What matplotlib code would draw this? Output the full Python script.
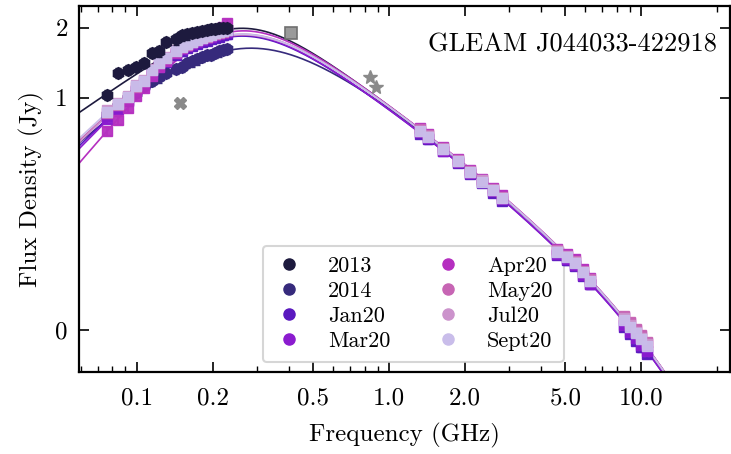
import numpy as np
import matplotlib
matplotlib.use("Agg")
import matplotlib.pyplot as plt
from matplotlib.lines import Line2D
from matplotlib.ticker import FixedLocator, NullLocator, LogLocator

plt.rcParams.update({
    "font.family": "serif",
    "font.serif": ["cmr10"],
    "mathtext.fontset": "cm",
    "axes.formatter.use_mathtext": True,
})

# ---------------- data ----------------
mwa_freq = [0.076, 0.084, 0.092, 0.099, 0.107, 0.115, 0.122, 0.130, 0.143, 0.151,
            0.158, 0.166, 0.174, 0.181, 0.189, 0.197, 0.204, 0.212, 0.220, 0.227]
atca_l_freq = [1.33, 1.42, 1.64, 1.88, 2.10, 2.34, 2.59, 2.81]
atca_c_freq = [4.65, 5.05, 5.45, 5.85, 6.25]
atca_x_freq = [8.5, 9.0, 9.5, 10.0, 10.5]

epochs = ["2013", "2014", "Jan20", "Mar20", "Apr20", "May20", "Jul20", "Sept20"]
colors = ["#1d1a3e", "#362a7c", "#5a19bf", "#8b1bcf", "#b52fc0", "#c765b4", "#cc93cc", "#c9bdea"]

mwa_2013 = [1.03, 1.28, 1.31, 1.35, 1.41, 1.56, 1.58, 1.73, 1.78, 1.85,
            1.87, 1.89, 1.92, 1.94, 1.96, 1.97, 1.98, 1.99, 1.99, 2.00]
mwa_2014 = [0.84, 0.92, 1.00, 1.05, 1.12, 1.18, 1.22, 1.28, 1.33, 1.36,
            1.41, 1.43, 1.46, 1.49, 1.52, 1.53, 1.56, 1.58, 1.60, 1.62]
mwa_jan20 = [0.83, 0.90, 0.97, 1.07, 1.13, 1.26, 1.35, 1.42, 1.53, 1.58,
             1.63, 1.67, 1.70, 1.73, 1.76, 1.79, 1.81, 1.83, 1.85, 1.87]
mwa_mar20 = [0.81, 0.89, 0.98, 1.08, 1.15, 1.28, 1.37, 1.45, 1.56, 1.61,
             1.66, 1.70, 1.74, 1.77, 1.80, 1.83, 1.86, 1.88, 1.90, 1.92]
mwa_apr20 = [0.72, 0.80, 0.90, 1.02, 1.10, 1.24, 1.35, 1.43, 1.56, 1.63,
             1.69, 1.74, 1.79, 1.83, 1.87, 1.91, 1.95, 1.98, 2.02, 2.10]
mwa_may20 = [0.86, 0.93, 1.01, 1.11, 1.18, 1.31, 1.41, 1.48, 1.59, 1.65,
             1.69, 1.73, 1.77, 1.80, 1.83, 1.86, 1.88, 1.90, 1.92, 1.95]
mwa_jul20 = [0.88, 0.95, 1.02, 1.13, 1.19, 1.33, 1.42, 1.49, 1.60, 1.66,
             1.70, 1.74, 1.78, 1.81, 1.84, 1.87, 1.89, 1.91, 1.93, 1.96]
mwa_sept20 = [0.87, 0.94, 1.01, 1.12, 1.18, 1.32, 1.41, 1.48, 1.59, 1.65,
              1.70, 1.73, 1.77, 1.81, 1.84, 1.86, 1.89, 1.91, 1.93, 1.95]

atca_l = {
    "Jan20": [0.70, 0.66, 0.59, 0.525, 0.47, 0.43, 0.39, 0.36],
    "Mar20": [0.71, 0.67, 0.59, 0.53, 0.475, 0.435, 0.395, 0.365],
    "Apr20": [0.74, 0.70, 0.61, 0.545, 0.49, 0.445, 0.41, 0.38],
    "May20": [0.73, 0.69, 0.605, 0.54, 0.485, 0.44, 0.405, 0.375],
    "Jul20": [0.72, 0.68, 0.60, 0.535, 0.48, 0.44, 0.40, 0.37],
    "Sept20": [0.72, 0.675, 0.60, 0.535, 0.48, 0.435, 0.40, 0.37],
}
atca_c = {
    "Jan20": [0.210, 0.199, 0.188, 0.171, 0.157],
    "Mar20": [0.212, 0.201, 0.190, 0.172, 0.158],
    "Apr20": [0.224, 0.212, 0.201, 0.183, 0.168],
    "May20": [0.220, 0.209, 0.198, 0.180, 0.165],
    "Jul20": [0.218, 0.207, 0.196, 0.178, 0.163],
    "Sept20": [0.216, 0.205, 0.195, 0.177, 0.162],
}
atca_x = {
    "Jan20": [0.103, 0.096, 0.090, 0.084, 0.079],
    "Mar20": [0.105, 0.098, 0.092, 0.086, 0.081],
    "Apr20": [0.114, 0.107, 0.100, 0.094, 0.088],
    "May20": [0.115, 0.108, 0.101, 0.095, 0.089],
    "Jul20": [0.112, 0.105, 0.098, 0.092, 0.087],
    "Sept20": [0.110, 0.103, 0.097, 0.091, 0.085],
}

# archival measurements (grey)
arch_square = ([0.408], [1.90])
arch_cross = ([0.149], [0.95])
arch_star = ([0.84, 0.888], [1.22, 1.115])

# fitted spectral model parameters per epoch:
# optically-thick / thin normalisation at 1 GHz, indices, smoothness, cutoff frequency
s_thick = [7.23, 9.6, 14.1, 15.8, 20.9, 12.9, 13.8, 13.2]
a_thick = [0.75, 0.95, 1.10, 1.15, 1.30, 1.05, 1.08, 1.05]
s_thin = [0.984, 0.984, 0.955, 0.955, 0.99, 0.99, 0.984, 0.984]
a_thin = [-0.75, -0.75, -0.75, -0.75, -0.75, -0.75, -0.75, -0.75]
smooth = [0.40, 0.70, 0.62, 0.63, 0.65, 0.62, 0.62, 0.62]
nu_cut = [15.0] * 8


def spectrum(nu, sk, ak, sn, an, w, nc):
    x = np.log10(nu)
    low = np.log10(sk) + ak * x
    high = np.log10(sn) + an * x
    y = -w * np.log10(10 ** (-low / w) + 10 ** (-high / w)) - nu / (nc * np.log(10))
    return 10 ** y


mwa_vals = [mwa_2013, mwa_2014, mwa_jan20, mwa_mar20, mwa_apr20, mwa_may20, mwa_jul20, mwa_sept20]

# ---------------- figure ----------------
fig = plt.figure(figsize=(7.31, 4.54), dpi=100)
ax = fig.add_axes([0.108, 0.181, 0.891, 0.806])
ax.set_xscale("log")
ax.set_yscale("log")

nu_grid = np.logspace(np.log10(0.05), np.log10(30), 500)
for i, ep in enumerate(epochs):
    ax.plot(nu_grid, spectrum(nu_grid, s_thick[i], a_thick[i], s_thin[i], a_thin[i], smooth[i], nu_cut[i]),
            color=colors[i], lw=1.2, zorder=2)

# archival points
ax.plot(*arch_square, ls="none", marker="s", ms=9, mfc="#9a9a9a", mec="#6f6f6f", mew=1.2, zorder=3)
ax.plot(*arch_cross, ls="none", marker="X", ms=9, color="#8a8a8a", zorder=3)
ax.errorbar(*arch_star, yerr=[0.02, 0.02], ls="none", marker="*", ms=10, color="#8a8a8a",
            capsize=2, zorder=3)

# epoch measurements
order = [1, 2, 3, 4, 5, 6, 7, 0]
for i in order:
    ep = epochs[i]
    c = colors[i]
    if i < 2:
        y = np.array(mwa_vals[i])
        ax.errorbar(mwa_freq, y, yerr=0.05 * y, ls="none", marker="h", ms=8.5, color=c,
                    mec=c, capsize=2, elinewidth=1.2, zorder=5 if i == 0 else 4)
    else:
        f = mwa_freq + atca_l_freq + atca_c_freq + atca_x_freq
        y = np.array(mwa_vals[i] + atca_l[ep] + atca_c[ep] + atca_x[ep])
        ax.errorbar(f, y, yerr=0.04 * y, ls="none", marker="s", ms=6.5, color=c,
                    mec=c, capsize=3, elinewidth=1.2, alpha=0.95, zorder=4)

ax.set_xlim(0.059, 22.5)
ax.set_ylim(0.066, 2.48)

ax.xaxis.set_major_locator(FixedLocator([0.1, 0.2, 0.5, 1.0, 2.0, 5.0, 10.0]))
ax.set_xticklabels(["0.1", "0.2", "0.5", "1.0", "2.0", "5.0", "10.0"])
ax.xaxis.set_minor_locator(LogLocator(base=10, subs=np.arange(2, 10) * 0.1 * 10, numticks=20))
ax.yaxis.set_major_locator(FixedLocator([0.1, 1.0, 2.0]))
ax.set_yticklabels(["0", "1", "2"])
ax.yaxis.set_minor_locator(NullLocator())

ax.tick_params(which="both", direction="in", top=True, right=True, labelsize=18, pad=8)
ax.tick_params(axis="x", which="major", pad=11)
ax.tick_params(which="major", length=7, width=1.2)
ax.tick_params(which="minor", length=4, width=1.0)
for s in ax.spines.values():
    s.set_linewidth(1.6)

ax.set_xlabel("Frequency (GHz)", fontsize=18, labelpad=10)
ax.set_ylabel("Flux Density (Jy)", fontsize=18, labelpad=8)

ax.text(0.98, 0.893, "GLEAM J044033-422918", transform=ax.transAxes, ha="right", va="center",
        fontsize=19)

handles = [Line2D([], [], ls="none", marker="o", ms=8, color=c) for c in colors]
leg = ax.legend(handles, epochs, ncol=2, loc="lower left", bbox_to_anchor=(0.282, 0.027),
                borderaxespad=0, fontsize=16, handlelength=1.4, handletextpad=1.05,
                columnspacing=1.9, labelspacing=0.24, borderpad=0.5, frameon=True, fancybox=True)
leg.get_frame().set_edgecolor("#cccccc")
leg.get_frame().set_linewidth(1.5)
leg.set_zorder(3.5)

fig.savefig("out.png", dpi=100)
